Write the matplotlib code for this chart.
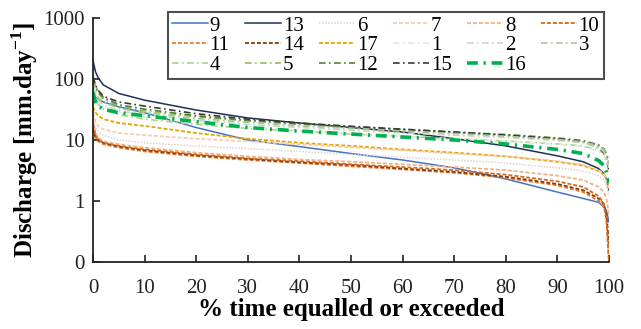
import matplotlib.pyplot as plt
import numpy as np

plt.rcParams['font.family'] = ['Liberation Serif', 'DejaVu Serif']
plt.rcParams['mathtext.fontset'] = 'custom'
plt.rcParams['mathtext.rm'] = 'Liberation Serif'
plt.rcParams['mathtext.bf'] = 'Liberation Serif:bold'

# % time equalled or exceeded
pct = [0, 0.5, 1, 2, 5, 10, 20, 30, 40, 50, 60, 70, 80, 90, 95, 98, 99, 99.5, 100]

# discharge [mm/day] per station
q9 = [55, 50, 46, 42, 35, 28, 16, 10, 7.8, 6.0, 4.7, 3.5, 2.3, 1.4, 1.1, 0.95, 0.8, 0.7, 0.45]
q13 = [200, 130, 105, 80, 58, 45, 31, 23, 19, 16, 13.5, 10.5, 8, 5.5, 4.4, 3.4, 2.8, 2.3, 1.5]
q6 = [22, 16, 14, 12, 10, 9, 8, 7.2, 6.5, 5.8, 5.2, 4.7, 4.2, 3.5, 3.1, 2.6, 2.2, 1.8, 1.2]
q7 = [28, 20, 17, 15, 13, 12, 10.5, 9.5, 8.5, 7.6, 6.8, 6, 5.4, 4.5, 3.9, 3.2, 2.8, 2.3, 1.6]
q8 = [20, 13, 11, 9.5, 8.5, 7.5, 6.2, 5.4, 4.8, 4.4, 4, 3.6, 3.2, 2.6, 2.2, 1.7, 1.4, 1.1, 0.6]
q10 = [18, 12, 10, 9, 8, 7, 5.8, 5, 4.5, 4, 3.6, 3.2, 2.7, 2.1, 1.7, 1.2, 0.9, 0.5, 0.1]
q11 = [15, 10.5, 9.5, 8.5, 7.5, 6.5, 5.4, 4.7, 4.2, 3.7, 3.3, 2.9, 2.4, 1.8, 1.4, 1.0, 0.8, 0.5, 0.1]
q14 = [16, 11, 10, 9, 7.8, 6.8, 5.6, 4.9, 4.3, 3.9, 3.4, 3, 2.5, 1.9, 1.5, 1.1, 0.9, 0.6, 0.2]
q17 = [35, 28, 25, 22, 19, 17, 13, 10.5, 9, 8, 7, 6.2, 5.4, 4.4, 3.8, 3.1, 2.7, 2.3, 1.8]
q1 = [70, 50, 42, 35, 28, 24, 19, 16.5, 14.5, 13, 11.5, 10.5, 9.5, 8.5, 7.8, 6.5, 5.5, 4.5, 3]
q2 = [80, 55, 45, 38, 30, 26, 21, 18, 16, 14.5, 13, 12, 11, 9.8, 9, 7.5, 6.5, 5, 3.5]
q3 = [90, 60, 50, 42, 33, 28, 22.5, 19.5, 17, 15.5, 14, 12.8, 11.5, 10.2, 9.3, 8, 7, 5.5, 4]
q4 = [75, 45, 38, 32, 26, 22, 18, 15.5, 14, 12.5, 11.5, 10.5, 9.6, 8.6, 8, 6.8, 6, 5, 3.5]
q5 = [95, 70, 58, 47, 36, 30, 24, 20.5, 18, 16, 14.5, 13.2, 12, 10.5, 9.5, 8, 7, 5.8, 4.2]
q12 = [100, 75, 62, 50, 38, 32, 25, 21, 18.5, 16.5, 15, 13.5, 12.3, 10.8, 9.8, 8.3, 7.2, 6, 4.5]
q15 = [110, 80, 65, 52, 42, 36, 27, 22, 19, 16.8, 15, 13.5, 12, 10.5, 9.2, 7.5, 6.2, 5, 3.2]
q16 = [60, 42, 36, 32, 28, 25, 20, 16, 14, 12.5, 11.2, 10, 8.6, 7, 6, 4.6, 3.8, 3, 2]

# legend order (filled column by column, 3 rows)
names = ['9', '11', '4', '13', '14', '5', '6', '17', '12', '7', '1', '15', '8', '2', '16', '10', '3']
series = [q9, q11, q4, q13, q14, q5, q6, q17, q12, q7, q1, q15, q8, q2, q16, q10, q3]

solid = (None, 1.1)
dash = ((0, (2.2, 1.1)), 1.3)
dot = ((0, (1.0, 1.0)), 1.1)
dashdot = ((0, (4.0, 2.0, 1.0, 2.0)), 1.2)
style = {
    '9': ('#4472C4', solid), '13': ('#1F2F55', solid),
    '6': ('#DDD3CC', dot), '7': ('#F8CBAD', dash), '8': ('#F4B183', dash),
    '10': ('#D2691E', dash), '11': ('#ED7D31', dash), '14': ('#843C0C', dash),
    '17': ('#E0A800', dash),
    '1': ('#E2EBDD', dashdot), '2': ('#C9D6C0', dashdot), '3': ('#A9C49A', dashdot),
    '4': ('#A9D18E', dashdot), '5': ('#8CBF5A', dashdot), '12': ('#548235', dashdot),
    '15': ('#3A3A3A', dashdot), '16': ('#00B050', ((0, (3.0, 1.6, 0.6, 1.6)), 2.6)),
}

fig = plt.figure(figsize=(6.41, 3.29), dpi=100)
ax = fig.add_axes([93 / 641, 1 - 262 / 329, (609 - 93) / 641, (262 - 18) / 329])

for name, q in zip(names, series):
    color, (ls, lw) = style[name]
    ax.plot(pct, q, color=color, lw=lw, linestyle=ls if ls else '-', label=name)

ax.set_yscale('log')
ax.set_ylim(0.1, 1000)
ax.set_xlim(0, 100)
ax.set_yticks([0.1, 1, 10, 100, 1000])
ax.set_yticklabels(['0', '1', '10', '100', '1000'])
ax.minorticks_off()
ax.set_xticks(np.arange(0, 101, 10))
ax.tick_params(direction='in', length=5, width=1.2, labelsize=15, colors='#222222')
ax.tick_params(axis='x', pad=12)
ax.tick_params(axis='y', pad=6)
for s in ['top', 'right']:
    ax.spines[s].set_visible(False)
for s in ['left', 'bottom']:
    ax.spines[s].set_linewidth(1.3)
    ax.spines[s].set_color('#222222')

ax.set_xlabel('% time equalled or exceeded', fontsize=18, fontweight='bold', labelpad=0)
ax.set_ylabel('Discharge [mm.day$^{\\mathbf{-1}}$]', fontsize=18, fontweight='bold', labelpad=2)

leg = ax.legend(ncol=6, loc='upper left', bbox_to_anchor=(168 / 641, 1 - 12 / 329),
                bbox_transform=fig.transFigure, fontsize=15, frameon=True, fancybox=False,
                handlelength=1.7, handletextpad=0.1, columnspacing=0.75, labelspacing=0.0,
                borderpad=0.2, borderaxespad=0)
leg.get_frame().set_edgecolor('#222222')
leg.get_frame().set_linewidth(1.5)

fig.savefig('out.png', dpi=100)
